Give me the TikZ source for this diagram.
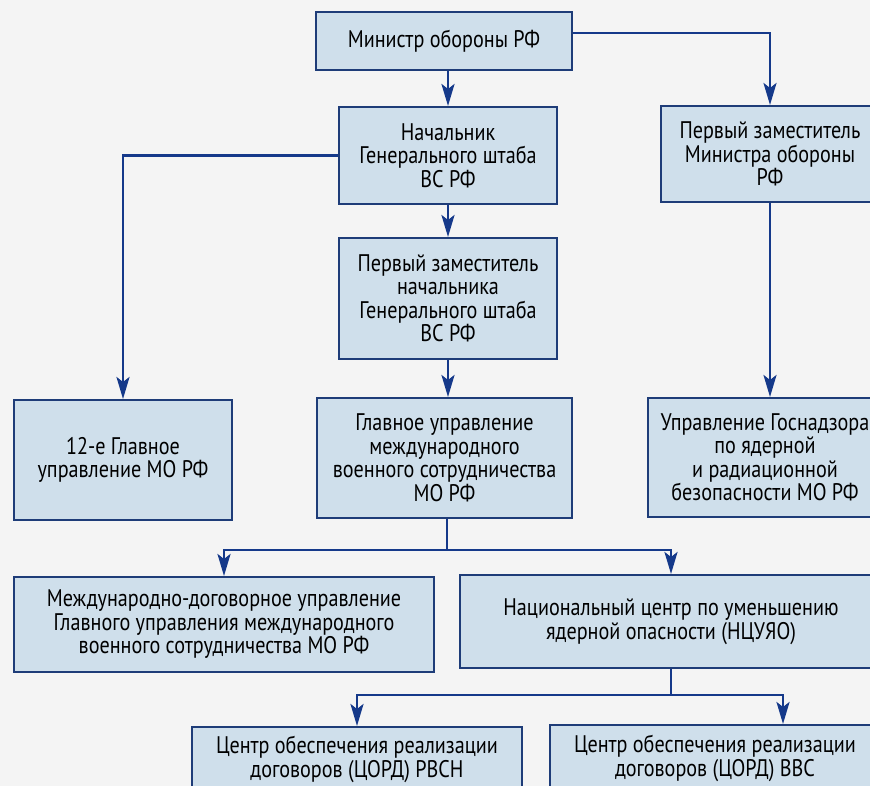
\documentclass[tikz,border=0pt]{standalone}
\usepackage{fontspec}
\setmainfont[FakeStretch = 0.84]{PT Sans}
\usetikzlibrary{arrows.meta}
\definecolor{boxfill}{HTML}{CFDFEB}
\definecolor{boxline}{HTML}{1E3C78}
\definecolor{arrline}{HTML}{15398A}
\definecolor{pagebg}{HTML}{F4F4F4}
\begin{document}
\begin{tikzpicture}[x = 1pt, y = -1pt,
        org/.style = {draw = boxline, line width = 2pt, fill = boxfill, align = center,
            inner sep = 0pt, font = \fontsize{24}{23.5}\selectfont},
        arr/.style = {draw = arrline, line width = 2.6pt,
            -{Stealth[length = 22pt, width = 13pt, inset = 5pt]}}]
    \useasboundingbox (0,0) rectangle (870,786);
    \fill[pagebg] (0,0) rectangle (870,786);
    \clip (0,0) rectangle (870,786);
    \node[org, minimum width = 256pt, minimum height = 58pt] (min) at (444,41) {Министр обороны РФ};
    \node[org, minimum width = 218pt, minimum height = 97pt] (nach) at (448,155.5) {Начальник\\Генерального штаба\\ВС РФ};
    \node[org, minimum width = 219pt, minimum height = 96pt] (perv) at (770,154) {Первый заместитель\\Министра обороны\\РФ};
    \node[org, minimum width = 218pt, minimum height = 121pt] (zamnach) at (448,298.5) {Первый заместитель\\начальника\\Генерального штаба\\ВС РФ};
    \node[org, minimum width = 218pt, minimum height = 120pt] (gu12) at (123,460) {12-е Главное\\управление МО РФ};
    \node[org, minimum width = 255pt, minimum height = 120pt] (gumvs) at (444.5,458) {Главное управление\\международного\\военного сотрудничества\\МО РФ};
    \node[org, minimum width = 234pt, minimum height = 119pt] (gosnadzor) at (765,457.5) {Управление Госнадзора\\по ядерной\\и радиационной\\безопасности МО РФ};
    \node[org, minimum width = 420pt, minimum height = 95pt] (mdu) at (224,624.5) {Международно-договорное управление\\Главного управления международного\\военного сотрудничества МО РФ};
    \node[org, minimum width = 422pt, minimum height = 93pt] (ncuyao) at (671,621.5) {Национальный центр по уменьшению\\ядерной опасности (НЦУЯО)};
    \node[org, minimum width = 330pt, minimum height = 65pt] (cord1) at (357,759.5) {Центр обеспечения реализации\\договоров (ЦОРД) РВСН};
    \node[org, minimum width = 330pt, minimum height = 67pt] (cord2) at (715,758.5) {Центр обеспечения реализации\\договоров (ЦОРД) ВВС};
    \coordinate (j1) at (447,550);
    \coordinate (j2) at (671,695);
    \draw[arr] ([yshift = 8pt]min.east) -| (perv.north);
    \draw[arr] (min.south -| nach.north) -- (nach.north);
    \draw[arr] (nach.west) -| (gu12.north);
    \draw[arr] (nach.south) -- (zamnach.north);
    \draw[arr] (zamnach.south) -- (zamnach.south |- gumvs.north);
    \draw[arr] (perv.south) -- (perv.south |- gosnadzor.north);
    \draw[arr] (gumvs.south -| j1) -- (j1) -| (mdu.north);
    \draw[arr] (j1) -| (ncuyao.north);
    \draw[arr] (ncuyao.south) -- (j2) -| (cord1.north);
    \draw[arr] (j2) -| ([xshift = 68pt]cord2.north);
\end{tikzpicture}
\end{document}
